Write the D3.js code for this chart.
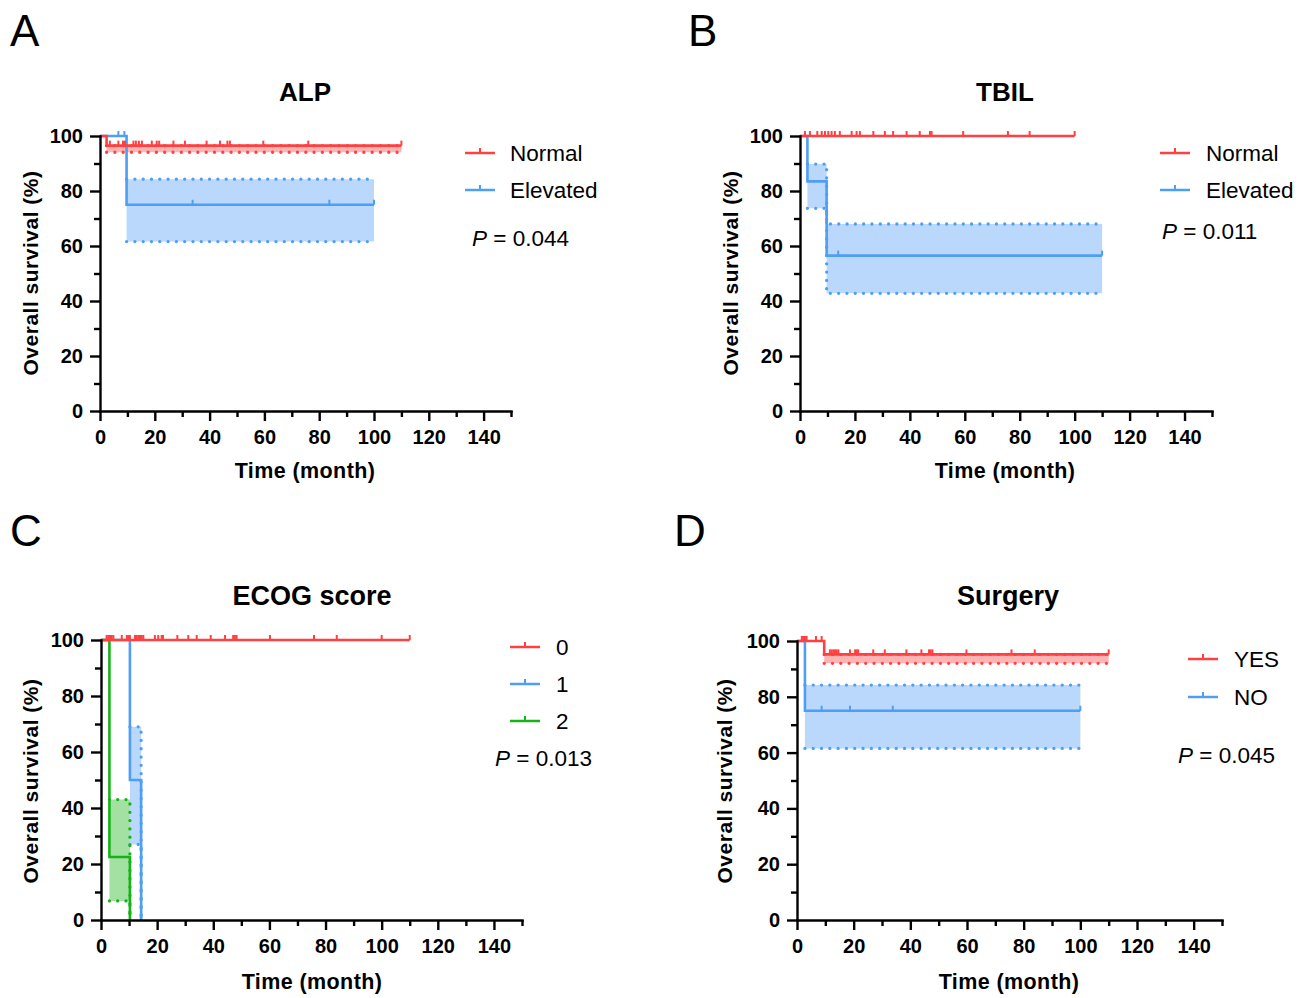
<!DOCTYPE html>
<html><head><meta charset="utf-8">
<script src="https://cdn.jsdelivr.net/npm/d3@7"></script>
<style>
body{margin:0;background:#fff;}
svg{display:block;font-family:"Liberation Sans",Arial,sans-serif;}
</style></head><body>
<svg id="c" width="1307" height="998"></svg>
<script>
// ---------- axis ticks ----------
const xTickMajor = [0,20,40,60,80,100,120,140];
const xTickMinor = [10,30,50,70,90,110,130,150];
const yTickMajor = [0,20,40,60,80,100];
const yTickMinor = [10,30,50,70,90];

// ---------- data: steps are [time, survival %, lower CI %, upper CI %] ----------
// Panel A: ALP
const alpNormalSteps = [[0,100,100,100],[2.4,96.5,94.1,96.5]];
const alpNormalEnd = 110;
const alpNormalCensor = [3.6,6.7,8.4,9.1,12.2,13.1,14.2,15.3,18.9,20.7,21.6,26.8,31,38.9,43.8,46.5,47.4,59.6,76,110];
const alpElevSteps = [[0,100,100,100],[9.7,75,61.6,84.3]];
const alpElevEnd = 100;
const alpElevCensor = [6.7,8.9,33.8,83.7,100];

// Panel B: TBIL
const tbilNormalSteps = [[0,100,100,100]];
const tbilNormalEnd = 100;
const tbilNormalCensor = [1.8,3.6,6.3,7.9,9.1,10.3,11.5,12.7,14.5,18.8,20.6,21.8,26.7,30.9,33.9,38.8,43.6,47.3,47.9,59.4,75.7,83.6,100];
const tbilElevSteps = [[0,100,100,100],[2.7,83.5,73.7,89.8],[9.7,56.5,42.8,68]];
const tbilElevEnd = 110;
const tbilElevCensor = [13.9,110];

// Panel C: ECOG score
const ecog0Steps = [[0,100,100,100]];
const ecog0End = 110;
const ecog0Censor = [2.0,2.6,3.2,3.8,4.4,7.4,9.2,9.7,10.3,12.1,12.7,13.3,13.9,14.5,15.1,19.2,20.4,21.6,22.1,27.2,31.1,34.1,39.1,44.2,47.1,47.7,48.3,60.2,75.9,84.0,100,110];
const ecog1Steps = [[0,100,100,100],[10.3,50,27,69],[14.3,0,0,0]];
const ecog1End = 14.3;
const ecog1Censor = [];
const ecog2Steps = [[0,100,100,100],[3.0,22.5,6.8,43],[10.3,0,0,0]];
const ecog2End = 10.3;
const ecog2Censor = [];

// Panel D: Surgery
const surgYesSteps = [[0,100,100,100],[9.6,95.2,92,95.2]];
const surgYesEnd = 110;
const surgYesCensor = [1.7,2.2,2.8,3.4,6.7,8.7,11.6,12.2,12.8,13.4,14.0,14.6,18.7,20.5,21.1,21.6,26.9,31.0,38.6,43.9,46.6,47.2,47.8,59.8,75.7,83.9,110];
const surgNoSteps = [[0,100,100,100],[2.8,75,61.5,84.2]];
const surgNoEnd = 100;
const surgNoCensor = [8.7,18.7,33.8,100];

// ---------- styles ----------
const RED = "#ff4040", BLUE = "#4f9ef5", GREEN = "#16b316";

const panels = [
  {letter:"A", lx:10, ly:46, title:"ALP", tsize:26, tx:305, ty:101, x0:100, x1:511, yb:411, yt:136,
   ylx:30, yly:273, xlx:305, xly:478,
   series:[{steps:alpNormalSteps,end:alpNormalEnd,censor:alpNormalCensor,color:RED,name:"Normal"},
           {steps:alpElevSteps,end:alpElevEnd,censor:alpElevCensor,color:BLUE,name:"Elevated"}],
   leg:{x:465, ys:[153,190], tx:510, px:472, py:238, p:"0.044"}},
  {letter:"B", lx:688, ly:46, title:"TBIL", tsize:26, tx:1005, ty:101, x0:800, x1:1212, yb:411, yt:136,
   ylx:730, yly:273, xlx:1005, xly:478,
   series:[{steps:tbilNormalSteps,end:tbilNormalEnd,censor:tbilNormalCensor,color:RED,name:"Normal"},
           {steps:tbilElevSteps,end:tbilElevEnd,censor:tbilElevCensor,color:BLUE,name:"Elevated"}],
   leg:{x:1160, ys:[153,190], tx:1206, px:1162, py:231, p:"0.011"}},
  {letter:"C", lx:10, ly:546, title:"ECOG score", tsize:27, tx:312, ty:605, x0:101, x1:522, yb:920, yt:640,
   ylx:30, yly:781, xlx:312, xly:989,
   series:[{steps:ecog0Steps,end:ecog0End,censor:ecog0Censor,color:RED,name:"0"},
           {steps:ecog1Steps,end:ecog1End,censor:ecog1Censor,color:BLUE,name:"1"},
           {steps:ecog2Steps,end:ecog2End,censor:ecog2Censor,color:GREEN,name:"2"}],
   leg:{x:510, ys:[647,684,721], tx:556, px:495, py:758, p:"0.013"}},
  {letter:"D", lx:674, ly:546, title:"Surgery", tsize:27, tx:1008, ty:605, x0:797, x1:1222, yb:920, yt:641,
   ylx:724, yly:781, xlx:1009, xly:989,
   series:[{steps:surgYesSteps,end:surgYesEnd,censor:surgYesCensor,color:RED,name:"YES"},
           {steps:surgNoSteps,end:surgNoEnd,censor:surgNoCensor,color:BLUE,name:"NO"}],
   leg:{x:1188, ys:[659,697], tx:1234, px:1178, py:755, p:"0.045"}}
];

const svg = d3.select("#c");

function drawPanel(p){
  const g = svg.append("g");
  const x = d3.scaleLinear().domain([0,150]).range([p.x0,p.x1]);
  const y = d3.scaleLinear().domain([0,100]).range([p.yb,p.yt]);

  const prepared = p.series.map(s=>{
    const pts = s.steps.map(d=>({t:d[0],s:d[1],lo:d[2],hi:d[3]}));
    pts.push(Object.assign({}, pts[pts.length-1], {t:s.end}));
    const i = pts.findIndex(d=>d.hi>d.lo);
    return {s, pts, ci: i<0 ? null : pts.slice(i)};
  });

  // CI fills
  const area = d3.area().curve(d3.curveStepAfter).x(d=>x(d.t)).y0(d=>y(d.lo)).y1(d=>y(d.hi));
  prepared.forEach(o=>{
    if(!o.ci) return;
    g.append("path").attr("d",area(o.ci)).attr("fill",o.s.color).attr("fill-opacity",0.4).attr("stroke","none");
  });
  // CI dotted bounds
  prepared.forEach(o=>{
    if(!o.ci) return;
    ["lo","hi"].forEach(k=>{
      const ln = d3.line().curve(d3.curveStepAfter).x(d=>x(d.t)).y(d=>y(d[k]));
      g.append("path").attr("d",ln(o.ci)).attr("fill","none").attr("stroke",o.s.color)
        .attr("stroke-width",3.3).attr("stroke-linecap","round").attr("stroke-dasharray","0 8.3");
    });
  });
  // survival lines + censor ticks (draw reversed so first series on top)
  prepared.slice().reverse().forEach(o=>{
    const ln = d3.line().curve(d3.curveStepAfter).x(d=>x(d.t)).y(d=>y(d.s));
    g.append("path").attr("d",ln(o.pts)).attr("fill","none").attr("stroke",o.s.color).attr("stroke-width",2.6);
    o.s.censor.forEach(c=>{
      let v = o.pts[0].s;
      o.pts.forEach(d=>{ if(d.t<=c) v=d.s; });
      g.append("line").attr("x1",x(c)).attr("x2",x(c)).attr("y1",y(v)).attr("y2",y(v)-5)
        .attr("stroke",o.s.color).attr("stroke-width",2);
    });
  });

  // axes
  const axStyle = sel=>{
    sel.selectAll("path,line").attr("stroke","#000").attr("stroke-width",2.4);
    sel.selectAll("text").attr("fill","#000").attr("font-size","20px").attr("font-weight","bold")
      .attr("font-family","'Liberation Sans',Arial,sans-serif");
  };
  const gx = g.append("g").attr("transform",`translate(0,${p.yb})`)
    .call(d3.axisBottom(x).tickValues(xTickMajor).tickSize(10).tickSizeOuter(0).tickPadding(9)).call(axStyle);
  gx.select(".domain").attr("stroke-linecap","square");
  g.append("g").attr("transform",`translate(0,${p.yb})`)
    .call(d3.axisBottom(x).tickValues(xTickMinor).tickSize(6).tickFormat("")).call(axStyle)
    .select(".domain").remove();
  const gy = g.append("g").attr("transform",`translate(${p.x0},0)`)
    .call(d3.axisLeft(y).tickValues(yTickMajor).tickSize(10).tickSizeOuter(0).tickPadding(7)).call(axStyle);
  gy.select(".domain").attr("stroke-linecap","square");
  g.append("g").attr("transform",`translate(${p.x0},0)`)
    .call(d3.axisLeft(y).tickValues(yTickMinor).tickSize(6).tickFormat("")).call(axStyle)
    .select(".domain").remove();

  // texts
  g.append("text").attr("x",p.lx).attr("y",p.ly).attr("font-size","44px").text(p.letter);
  g.append("text").attr("x",p.tx).attr("y",p.ty).attr("text-anchor","middle")
    .attr("font-size",p.tsize+"px").attr("font-weight","bold").text(p.title);
  g.append("text").attr("transform",`translate(${p.ylx},${p.yly}) rotate(-90)`).attr("text-anchor","middle")
    .attr("dy","0.36em").attr("font-size","21px").attr("font-weight","bold").attr("letter-spacing","0.5px")
    .text("Overall survival (%)");
  g.append("text").attr("x",p.xlx).attr("y",p.xly).attr("text-anchor","middle")
    .attr("font-size","21.5px").attr("font-weight","bold").attr("letter-spacing","0.4px").text("Time (month)");

  // legend
  p.series.forEach((s,i)=>{
    const ly = p.leg.ys[i];
    g.append("line").attr("x1",p.leg.x).attr("x2",p.leg.x+30).attr("y1",ly).attr("y2",ly)
      .attr("stroke",s.color).attr("stroke-width",2.5);
    g.append("line").attr("x1",p.leg.x+15).attr("x2",p.leg.x+15).attr("y1",ly).attr("y2",ly-5)
      .attr("stroke",s.color).attr("stroke-width",2);
    g.append("text").attr("x",p.leg.tx).attr("y",ly).attr("dy","0.36em").attr("font-size","22.5px").text(s.name);
  });
  const pt = g.append("text").attr("x",p.leg.px).attr("y",p.leg.py).attr("dy","0.36em").attr("font-size","22.5px");
  pt.append("tspan").attr("font-style","italic").text("P");
  pt.append("tspan").text(" = " + p.leg.p);
}

panels.forEach(drawPanel);
</script>
</body></html>
